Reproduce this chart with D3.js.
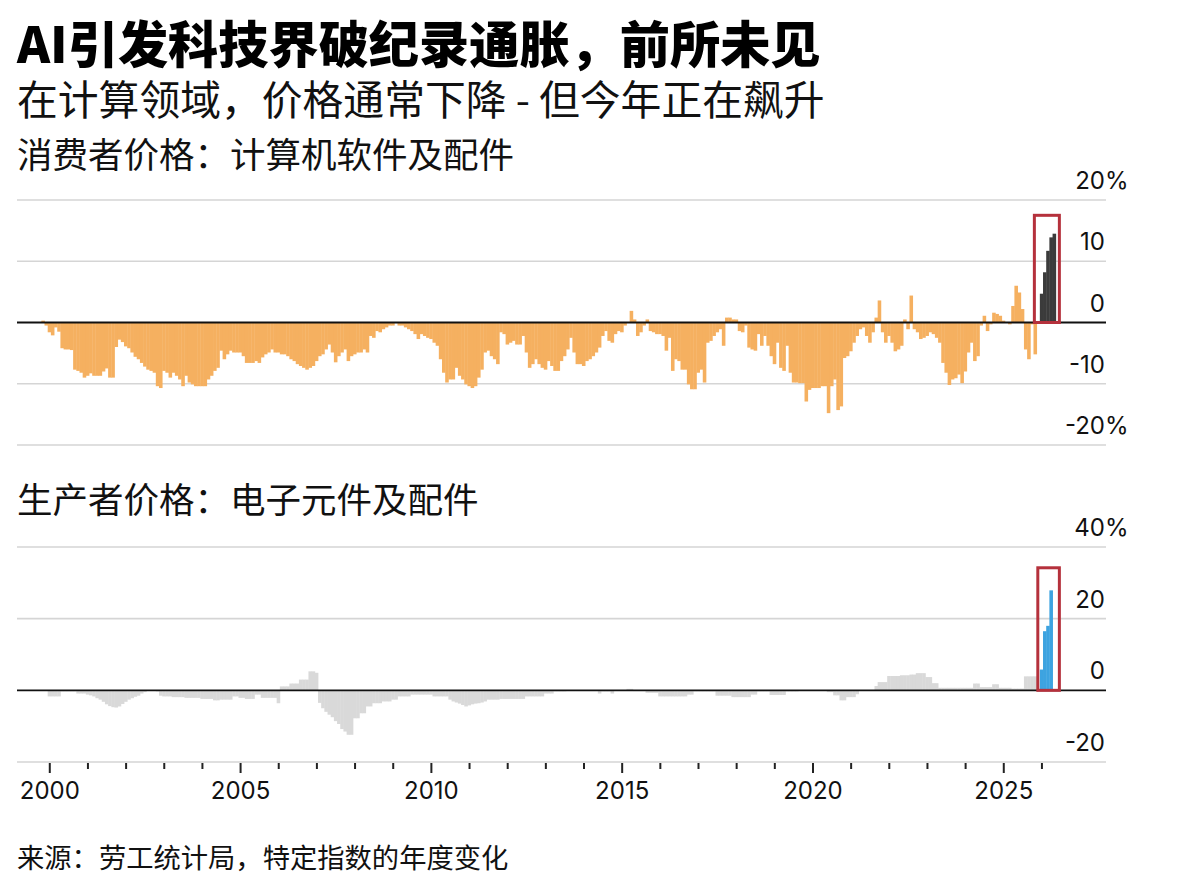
<!DOCTYPE html>
<html>
<head>
<meta charset="utf-8">
<script src="https://cdn.jsdelivr.net/npm/d3@7"></script>
<style>
  body { margin: 0; background: #fff; }
  svg { display: block; }
</style>
</head>
<body>
<svg id="chart" width="1200" height="896"></svg>
<script>
// ---------- text ----------
const titleText = "AI引发科技界破纪录通胀，前所未见";
const subtitleText = "在计算领域，价格通常下降 - 但今年正在飙升";
const cpiLabel = "消费者价格：计算机软件及配件";
const ppiLabel = "生产者价格：电子元件及配件";
const sourceText = "来源：劳工统计局，特定指数的年度变化";

// ---------- axis ticks ----------
const yearTicks = d3.range(2000, 2027);
const yearLabels = [2000, 2005, 2010, 2015, 2020, 2025];
const cpiTicks = [20, 10, 0, -10, -20];
const cpiTickLabels = ["20%", "10", "0", "-10", "-20%"];
const ppiTicks = [40, 20, 0, -20];
const ppiTickLabels = ["40%", "20", "0", "-20"];

// ---------- data (year-over-year % change, monthly) ----------
// CPI: computer software & accessories, from Nov 1999 to Dec 2025
const cpiStart = [1999, 11];
const cpiValues = [
  0.3, -0.5, -1.6, -2.1, -0.8, -1.5, -4.2, -4.4, -4.4, -4.5, -7.7, -7.9, -8.2, -9.0,
  -8.7, -8.3, -8.7, -8.7, -8.7, -8.0, -7.5, -9.0, -9.0, -4.0, -2.8, -3.2,
  -3.9, -4.2, -4.9, -5.6, -6.0, -6.6, -7.2, -7.7, -7.9, -8.2, -10.4, -10.7,
  -7.9, -8.2, -9.0, -8.2, -8.7, -9.3, -10.4, -8.7, -9.8, -10.1, -10.4, -10.4,
  -10.4, -10.4, -9.3, -8.7, -7.9, -7.4, -4.6, -6.0, -5.2, -4.6, -4.9, -4.9,
  -4.9, -5.5, -6.6, -6.6, -6.6, -6.3, -6.6, -5.7, -5.2, -4.9, -4.4, -4.9,
  -4.9, -5.2, -5.2, -5.5, -6.0, -6.3, -6.8, -7.1, -7.4, -7.7, -7.4, -7.1,
  -6.3, -5.5, -5.2, -4.4, -3.6, -4.9, -6.5, -5.5, -4.9, -4.4, -6.3, -5.5,
  -5.2, -4.9, -4.9, -4.4, -4.9, -2.2, -2.5, -1.4, -1.6, -1.1, -0.8, -0.5,
  -0.5, -0.1,
  -0.5, -0.5, -0.8, -1.1, -1.4, -1.9, -2.7, -1.9, -2.2, -2.5, -2.7, -3.3,
  -3.8, -6.0, -8.2, -9.8, -9.3, -9.3, -7.4, -8.7, -9.3, -10.1, -10.4, -10.7,
  -10.4, -9.0, -7.7, -4.9, -4.6, -5.5, -6.0, -6.8, -1.6, -1.9, -3.6, -3.3,
  -3.0, -3.6, -3.6, -2.2, -4.9, -7.4, -6.8, -6.0, -6.8, -7.4, -7.7, -6.3,
  -7.1, -7.9, -7.9, -6.3, -5.5, -4.4, -2.5, -4.9, -6.8, -6.8, -7.1, -6.3,
  -6.0, -5.5, -4.9, -4.1, -2.2, -1.4, -3.0, -3.3, -1.9, -1.4, -1.6, -0.5,
  0.0, 1.9, 0.5, -2.2, -1.6, -0.5, 0.5, -1.4, -1.6, -1.9, -1.9, -2.2,
  -4.6, -2.5, -7.9, -6.0, -6.3, -7.7, -7.7, -10.1, -10.9, -10.9, -8.2, -7.7,
  -9.8, -3.3, -3.0, -2.2, -1.6, -1.1, -3.8, 0.8, 0.8, 0.5, 0.5, -1.4,
  -1.6, -0.5, -4.1, -4.4, -4.6, -1.9, -3.8, -2.2, -3.8, -5.5, -6.8, -3.3,
  -7.4, -7.9, -3.8, -8.2, -9.8, -9.8,
  -9.9, -9.9, -12.9, -11.0, -10.7, -10.7, -10.7, -10.4, -10.4, -14.8, -10.4, -9.3,
  -14.3, -13.7, -5.8, -5.5, -4.7, -3.3, -2.2, -1.1, -0.8, -2.2, -3.3, -1.6,
  0.8, 3.6, -1.6, -3.3, -2.2, -3.3, -4.7, -4.4, -3.8, 0.5, -1.1, 4.4,
  -1.1, -1.6, -2.7, -2.5, -2.2, -1.6, -1.9, -2.5, -3.3, -6.6, -8.2, -10.2,
  -9.3, -9.1, -8.5, -9.9, -8.0, -4.9, -3.3, -6.3, -5.5, -0.5, 1.1, -1.4,
  -0.3, 1.6, 1.4, 1.1, 0.3, 0.0, -0.3, 2.7, 6.0, 4.9, 2.2, -4.4,
  -6.0, -0.3, -5.2, null
];
// CPI highlighted 2026 months
const cpiHighlightStart = [2026, 1];
const cpiHighlight = [4.7, 8.2, 11.7, 13.9, 14.5];

// PPI: electronic components & accessories, from Jan 2000 to Dec 2025
const ppiStart = [2000, 1];
const ppiValues = [
  -1.7, -1.7, -1.7, -1.7, -0.3, -0.3, -0.3, -0.3, -0.3, -0.9, -0.9, -0.9,
  -1.2, -1.4, -1.7, -2.2, -2.6, -3.2, -3.9, -4.4, -4.7, -4.8, -4.5, -3.8,
  -3.2, -2.6, -2.2, -1.8, -1.5, -0.9, -0.5, -0.1, 0.0, 0.0, -0.3, -1.5,
  -1.7, -1.7, -1.7, -1.9, -1.9, -1.9, -1.9, -2.1, -2.1, -2.1, -2.1, -2.1,
  -2.4, -2.4, -2.4, -2.4, -2.8, -2.8, -2.6, -2.6, -2.6, -2.6, -1.7, -1.7,
  -2.1, -2.1, -2.4, -2.4, -2.4, -1.2, -1.2, -2.1, -2.1, -2.1, -2.1, -2.1,
  -3.6, 1.1, 1.1, 1.1, 1.9, 1.9, 1.9, 3.0, 3.0, 3.0, 5.3, 5.3,
  4.9, -3.5, -5.0, -6.0, -6.8, -7.5, -8.6, -9.4, -10.8, -11.5, -12.4, -12.4,
  -7.8, -7.8, -6.4, -6.4, -4.5, -4.5, -3.6, -3.6, -3.6, -3.1, -3.1, -3.1,
  -2.6, -2.6,
  -1.7, -1.7, -1.7, -1.7, -1.2, -1.2, -1.2, -1.2, -1.2, -1.2, -1.2, -1.7,
  -1.7, -1.7, -1.7, -1.7, -2.6, -3.1, -3.4, -3.7, -4.1, -4.5, -4.2, -3.9,
  -3.7, -3.6, -3.4, -3.1, -2.6, -2.6, -2.6, -2.6, -2.4, -2.4, -2.4, -2.4,
  -2.4, -2.4, -2.4, -2.4, -1.7, -1.7, -1.7, -1.7, -1.7, -1.7, -0.9, -0.9,
  -0.9, -0.3, -0.3, -0.3, -0.3, -0.2, -0.2, -0.2, -0.2, -0.2, -0.2, -0.2,
  -0.2, -0.2, -0.2, -0.9, -0.3, -0.3, -0.3, -0.9, -0.1, -0.1, -0.1, -0.1,
  0.4, 0.4, -0.2, -0.2, -0.2, -0.2, -0.7, -0.7, -0.7, -0.7, -1.7, -1.7,
  -1.7, -1.7, -1.7, -1.7, -1.7, -1.7, -1.7, -1.2, -1.2, -0.3, -0.3, -0.3,
  -0.3, -0.3, -0.3, -0.3, -1.5, -1.5, -1.5, -1.5, -1.5, -1.9, -1.9, -1.9,
  -1.9, -1.9, -1.9, -1.2, -1.2, -0.3, -0.3, -0.3, -0.3, -1.3, -1.3, -1.3,
  -1.3, -1.3, -0.3, -0.3, -0.3, -0.3,
  0.1, 0.1, 0.1, 0.1, 0.1, 0.1, 0.1, 0.1, 0.1, -0.5, -0.5, -1.4,
  -1.4, -2.8, -2.8, -1.9, -1.9, -1.9, -1.1, -0.1, -0.1, -0.1, -0.1, -0.1,
  1.2, 2.3, 2.3, 2.3, 4.0, 4.0, 4.0, 4.0, 4.2, 4.2, 4.2, 4.4,
  4.4, 4.8, 4.8, 4.8, 3.7, 3.7, 2.0, 2.0, 0.7, 0.7, 0.7, 0.7,
  0.7, 0.7, 0.7, 0.7, 0.7, 0.7, 0.7, 1.9, 1.9, 0.9, 0.9, 0.9,
  0.9, 1.7, 1.7, 0.7, 0.7, 0.7, 0.7, 0.5, 0.5, 0.5, 0.5, 3.9,
  3.9, 3.9, 3.9, null
];
const ppiHighlightStart = [2026, 1];
const ppiHighlight = [5.8, 16.5, 18.0, 27.9];

// highlight boxes (decimal year span, value top)
const cpiBox = { from: 2025.815, to: 2026.47, top: 17.5, bottom: 0 };
const ppiBox = { from: 2025.905, to: 2026.47, top: 34.2, bottom: 0 };

// ---------- colours ----------
const COL = {
  orange: "#f5b060", dark: "#3b3b3b", gray: "#d9d9d9", blue: "#3da3e0",
  grid: "#d5d5d5", zero: "#111", red: "#b5313c", text: "#111"
};

// ---------- helpers ----------
const toSeries = (start, values) =>
  values.map((v, i) => ({ t: start[0] + (start[1] - 1 + i) / 12, v }))
        .filter(d => d.v !== null);

const svg = d3.select("#chart");
svg.append("rect").attr("width", 1200).attr("height", 896).attr("fill", "#fff");

const x = d3.scaleLinear().domain([1999.154, 2027.692]).range([17, 1106]);
const bw = x(2000 + 1 / 12) - x(2000);

const yCpi = d3.scaleLinear().domain([-20, 20]).range([445, 200]);
const yPpi = d3.scaleLinear().domain([-20, 40]).range([762, 547]);

const cjk = "'Noto Sans CJK SC', 'Noto Sans', sans-serif";
const num = "Inter, 'Liberation Sans', Arial, sans-serif";

// ---------- titles ----------
svg.append("text").attr("x", 17).attr("y", 63).text(titleText)
  .attr("font-family", cjk).attr("font-size", 50.2).attr("font-weight", 900).attr("fill", "#000");
svg.append("text").attr("x", 17).attr("y", 115).text(subtitleText)
  .attr("font-family", cjk).attr("font-size", 40.8).attr("fill", COL.text);
svg.append("text").attr("x", 17).attr("y", 168).text(cpiLabel)
  .attr("font-family", cjk).attr("font-size", 35.5).attr("fill", COL.text);
svg.append("text").attr("x", 17).attr("y", 513).text(ppiLabel)
  .attr("font-family", cjk).attr("font-size", 35.5).attr("fill", COL.text);
svg.append("text").attr("x", 17).attr("y", 868).text(sourceText)
  .attr("font-family", cjk).attr("font-size", 27.3).attr("fill", COL.text);

// ---------- panel drawing ----------
function panel(y, ticks, tickLabels, base, baseStart, hi, hiStart, baseColor, hiColor, box) {
  const g = svg.append("g");
  // grid
  g.selectAll("line.grid").data(ticks.filter(d => d !== 0)).join("line")
    .attr("x1", x.range()[0]).attr("x2", x.range()[1])
    .attr("y1", d => y(d)).attr("y2", d => y(d))
    .attr("stroke", COL.grid).attr("stroke-width", 1.6);
  // labels
  const lab = g.selectAll("g.lab").data(ticks).join("g");
  lab.append("text")
    .attr("x", 1105).attr("y", d => y(d) - 11)
    .attr("text-anchor", "end")
    .attr("font-family", num).attr("font-size", 24).attr("fill", COL.text)
    .text((d, i) => tickLabels[i].replace("%", ""));
  lab.filter((d, i) => tickLabels[i].includes("%")).append("text")
    .attr("x", 1105).attr("y", d => y(d) - 11)
    .attr("font-family", num).attr("font-size", 24).attr("fill", COL.text)
    .text("%");
  // bars
  const drawBars = (data, color) => g.append("g").selectAll("rect").data(data).join("rect")
    .attr("x", d => x(d.t) - bw / 2)
    .attr("width", bw + 0.4)
    .attr("y", d => Math.min(y(d.v), y(0)))
    .attr("height", d => Math.abs(y(d.v) - y(0)))
    .attr("fill", color);
  drawBars(toSeries(baseStart, base), baseColor);
  drawBars(toSeries(hiStart, hi), hiColor);
  // zero line
  g.append("line").attr("x1", x.range()[0]).attr("x2", x.range()[1])
    .attr("y1", y(0)).attr("y2", y(0)).attr("stroke", COL.zero).attr("stroke-width", 1.8);
  // highlight box
  g.append("rect")
    .attr("x", x(box.from)).attr("width", x(box.to) - x(box.from))
    .attr("y", y(box.top)).attr("height", y(box.bottom) - y(box.top))
    .attr("fill", "none").attr("stroke", COL.red).attr("stroke-width", 3);
  return g;
}

panel(yCpi, cpiTicks, cpiTickLabels, cpiValues, cpiStart, cpiHighlight, cpiHighlightStart,
      COL.orange, COL.dark, cpiBox);
panel(yPpi, ppiTicks, ppiTickLabels, ppiValues, ppiStart, ppiHighlight, ppiHighlightStart,
      COL.gray, COL.blue, ppiBox);

// ---------- x axis ----------
const xAxis = d3.axisBottom(x)
  .tickValues(yearTicks)
  .tickSizeOuter(0)
  .tickSize(7)
  .tickPadding(0)
  .tickFormat(d => yearLabels.includes(d) ? String(d) : "");
const ax = svg.append("g").attr("transform", `translate(0,${yPpi(-20)})`).call(xAxis);
ax.select(".domain").remove();
ax.selectAll(".tick line")
  .attr("y1", 1)
  .attr("y2", d => yearLabels.includes(d) ? 11 : 7)
  .attr("stroke", "#222").attr("stroke-width", 2);
ax.selectAll(".tick text")
  .attr("y", 37).attr("dy", null)
  .attr("font-family", num).attr("font-size", 24).attr("fill", COL.text);
</script>
</body>
</html>
